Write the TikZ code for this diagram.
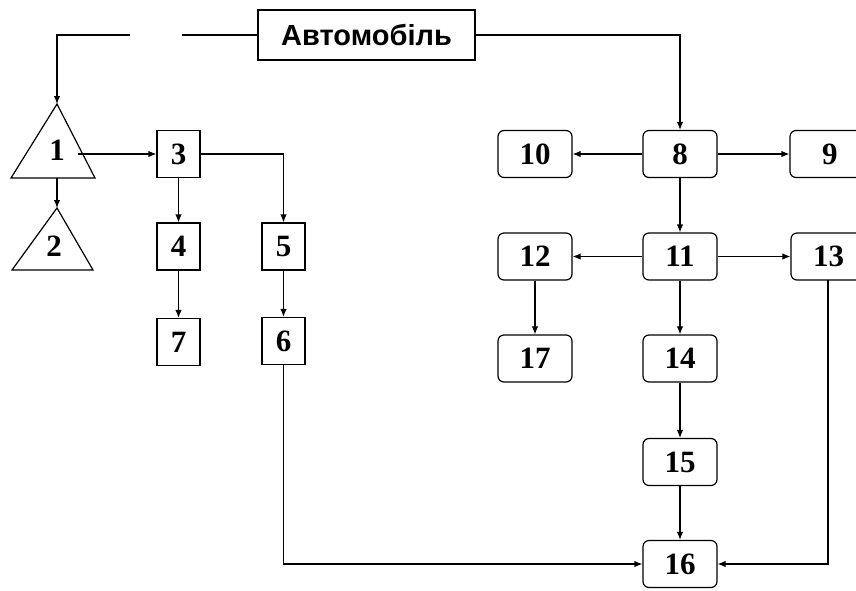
\documentclass[tikz,border=0pt]{standalone}
\usepackage{fontspec}
\setmainfont{Liberation Serif}
\newfontfamily\autofont{Liberation Sans}
\usetikzlibrary{arrows.meta}
\begin{document}
\begin{tikzpicture}[x=1pt,y=-1pt,
  line width=1.2pt,
  arr/.style={-{Latex[length=8pt,width=6.5pt]}},
  numfont/.style={font=\fontsize{31}{33}\selectfont\bfseries},
  sq/.style={draw,minimum width=43pt,minimum height=47pt,inner sep=0pt,numfont},
  rnd/.style={draw,rounded corners=6pt,minimum width=74pt,minimum height=47pt,inner sep=0pt,numfont},
  lbl/.style={inner sep=0pt,numfont}]
\useasboundingbox (0,0) rectangle (856,590);
% title
\node[draw,minimum width=217pt,minimum height=50pt,inner sep=0pt,font=\autofont\fontsize{29}{31}\selectfont\bfseries] (auto) at (366.5,35) {Автомобіль};
\coordinate (gapR) at (182,35);
\coordinate (gapL) at (130,35);
% triangles
\coordinate (t1a) at (57,104);
\coordinate (t1l) at (11,178);
\coordinate (t1r) at (95,178);
\coordinate (t1b) at (57,178);
\coordinate (t1e) at (78,154);
\draw (t1a) -- (t1l) -- (t1r) -- cycle;
\node[lbl] (n1) at (57,150) {1};
\coordinate (t2a) at (57,208);
\coordinate (t2l) at (12,270);
\coordinate (t2r) at (93,270);
\draw (t2a) -- (t2l) -- (t2r) -- cycle;
\node[lbl] (n2) at (54,246) {2};
% square boxes
\node[sq] (n3) at (178.5,154) {3};
\node[sq] (n4) at (178.5,246.5) {4};
\node[sq] (n7) at (178.5,342) {7};
\node[sq] (n5) at (283.5,246.5) {5};
\node[sq] (n6) at (283.5,341) {6};
% rounded boxes
\node[rnd] (n10) at (535,154) {10};
\node[rnd] (n8) at (680,154) {8};
\node[rnd,minimum width=80pt,text width=76pt,align=left] (n9) at (830,154) {\hspace{30pt}9};
\node[rnd] (n12) at (535,256.5) {12};
\node[rnd] (n11) at (680,256.5) {11};
\node[rnd,minimum width=80pt,text width=76pt,align=left] (n13) at (831,256.5) {\hspace{20pt}13};
\node[rnd] (n17) at (535,358.5) {17};
\node[rnd] (n14) at (680,358.5) {14};
\node[rnd] (n15) at (680,462) {15};
\node[rnd] (n16) at (680,564) {16};
% connectors
\draw (auto.west) -- (gapR);
\draw[arr] (gapL) -| (t1a);
\draw[arr] (auto.east) -| (n8.north);
\draw[arr] (t1b) -- (t2a);
\draw[arr] (t1e) -- (n3.west);
\draw[arr] (n3) -- (n4);
\draw[arr] (n4) -- (n7);
\draw[arr] (n3.east) -| (n5.north);
\draw[arr] (n5) -- (n6);
\draw[arr] (n6.south) |- (n16.west);
\draw[arr] (n8) -- (n10);
\draw[arr] (n8) -- (n9.west);
\draw[arr] (n8) -- (n11);
\draw[arr] (n11) -- (n12);
\draw[arr] (n11) -- (n13.west);
\draw[arr] (n11) -- (n14);
\draw[arr] (n14) -- (n15);
\draw[arr] (n15) -- (n16);
\draw[arr] (n12.south) -- (n17.north);
\coordinate (c13) at (828,280);
\draw[arr] (c13) |- (n16.east);
\end{tikzpicture}
\end{document}
